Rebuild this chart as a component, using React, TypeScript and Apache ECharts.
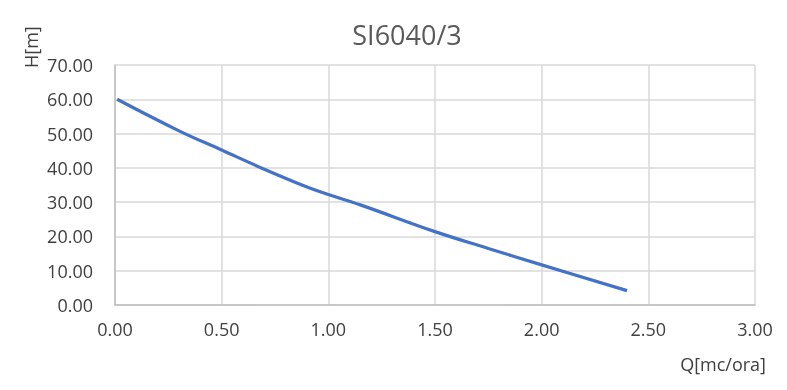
import React, { useEffect, useRef } from "react";
import * as echarts from "echarts";

const title = "SI6040/3";
const xName = "Q[mc/ora]";
const yName = "H[m]";
const flowQ = [0.01, 0.3, 0.5, 0.7, 0.9, 1.0, 1.15, 1.5, 1.75, 2.0, 2.4];
const headH = [60, 50.8, 45.2, 39.6, 34.4, 32.2, 29.2, 21.4, 16.5, 11.7, 4.2];

export default function App() {
  const ref = useRef<HTMLDivElement>(null);
  useEffect(() => {
    if (!ref.current) return;
    const chart = echarts.init(ref.current, null, { renderer: "svg" });
    const font = "'Open Sans', sans-serif";
    chart.setOption({
      animation: false,
      title: {
        text: title,
        left: 402,
        top: 16,
        textAlign: "center",
        textStyle: { fontFamily: font, fontSize: 27, fontWeight: "normal", color: "#595959" },
      },
      grid: { left: 115, right: 32, top: 65, bottom: 85 },
      xAxis: {
        type: "value",
        min: 0,
        max: 3,
        interval: 0.5,
        axisLine: { show: true, lineStyle: { color: "#bfbfbf", width: 1.5 } },
        axisTick: { show: false },
        splitLine: { show: true, lineStyle: { color: "#d9d9d9", width: 1.5 } },
        axisLabel: {
          formatter: (v: number) => v.toFixed(2),
          fontFamily: font,
          fontSize: 18,
          color: "#404040",
          margin: 15,
        },
      },
      yAxis: {
        type: "value",
        min: 0,
        max: 70,
        interval: 10,
        axisLine: { show: true, lineStyle: { color: "#bfbfbf", width: 1.5 } },
        axisTick: { show: false },
        splitLine: { show: true, lineStyle: { color: "#d9d9d9", width: 1.5 } },
        axisLabel: {
          formatter: (v: number) => v.toFixed(2),
          fontFamily: font,
          fontSize: 18,
          color: "#404040",
          margin: 22,
        },
      },
      graphic: [
        {
          type: "text",
          x: 22,
          y: 68,
          rotation: Math.PI / 2,
          style: { text: yName, fontFamily: font, fontSize: 18, fill: "#404040", textAlign: "left", textVerticalAlign: "top" },
        },
        {
          type: "text",
          x: 766,
          y: 355,
          style: { text: xName, fontFamily: font, fontSize: 18, fill: "#404040", textAlign: "right", textVerticalAlign: "top" },
        },
      ],
      series: [
        {
          type: "line",
          data: flowQ.map((q, i) => [q, headH[i]]),
          smooth: 0.4,
          showSymbol: false,
          lineStyle: { color: "#4472c4", width: 3.2 },
        },
      ],
    });
    return () => chart.dispose();
  }, []);
  return <div ref={ref} style={{ position: "fixed", left: 0, top: 0, width: 787, height: 390 }} />;
}
